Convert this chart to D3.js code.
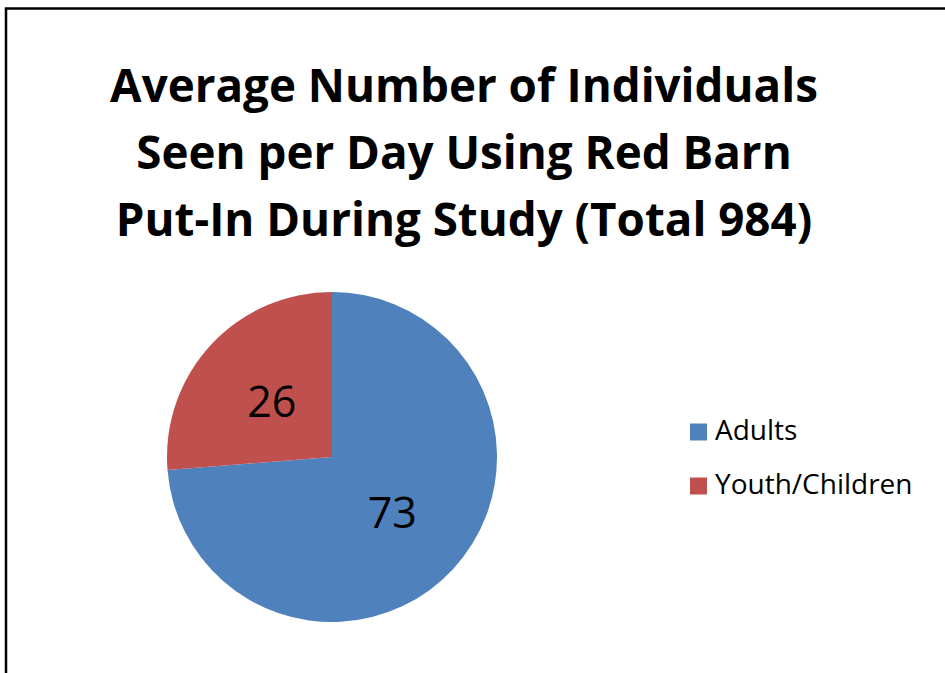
<!DOCTYPE html>
<html>
<head>
<meta charset="utf-8">
<script src="https://cdn.jsdelivr.net/npm/d3@7"></script>
<style>
  html, body { margin: 0; padding: 0; background: #fff; }
  svg { display: block; }
</style>
</head>
<body>
<svg id="chart" width="945" height="673"></svg>
<script>
const titleLines = ["Average Number of Individuals", "Seen per Day Using Red Barn", "Put-In During Study (Total 984)"];
const categories = ["Adults", "Youth/Children"];
const values = [73, 26];
const colors = ["#4F81BD", "#C0504D"];

const svg = d3.select("#chart");
const W = 945, H = 673;

// frame
svg.append("rect")
  .attr("x", 6).attr("y", 8.5)
  .attr("width", W + 20).attr("height", H + 20)
  .attr("fill", "#fff").attr("stroke", "#000").attr("stroke-width", 2.5);

const font = "'Open Sans', 'Noto Sans', sans-serif";

// title
const titleG = svg.append("g");
const baselines = [102, 169, 236];
const tl = titleG.selectAll("text").data(titleLines).join("text")
  .attr("x", 464).attr("y", (d, i) => baselines[i])
  .attr("text-anchor", "middle")
  .attr("font-family", font).attr("font-weight", "bold")
  .attr("font-size", 40).attr("fill", "#000")
  .text(d => d);
// fit font size so the longest lines span ~708px
const w0 = d3.max(tl.nodes(), n => n.getComputedTextLength());
const fs = 40 * 708 / w0;
tl.attr("font-size", fs);

// pie
const cx = 332, cy = 457, R = 165;
const pie = d3.pie().sort(null).value(d => d.v);
const data = pie(categories.map((c, i) => ({ c, v: values[i], col: colors[i] })));
const arc = d3.arc().innerRadius(0).outerRadius(R);
const labelArc = d3.arc().innerRadius(82).outerRadius(82);

const g = svg.append("g").attr("transform", `translate(${cx},${cy})`);
g.selectAll("path").data(data).join("path")
  .attr("d", arc).attr("fill", d => d.data.col);

g.selectAll("text").data(data).join("text")
  .attr("transform", d => { const [x, y] = labelArc.centroid(d); return `translate(${x},${y})`; })
  .attr("text-anchor", "middle").attr("dy", "0.36em")
  .attr("font-family", font).attr("font-size", 43).attr("fill", "#000")
  .text(d => d.data.v);

// legend
const legY = [432, 486];
const lg = svg.append("g");
const items = lg.selectAll("g").data(categories).join("g")
  .attr("transform", (d, i) => `translate(690,${legY[i]})`);
items.append("rect").attr("x", 0).attr("y", -8.5).attr("width", 17).attr("height", 17)
  .attr("fill", (d, i) => colors[i]);
items.append("text").attr("x", 25).attr("y", 8)
  .attr("font-family", font).attr("font-size", 28).attr("fill", "#000")
  .text(d => d);
</script>
</body>
</html>
